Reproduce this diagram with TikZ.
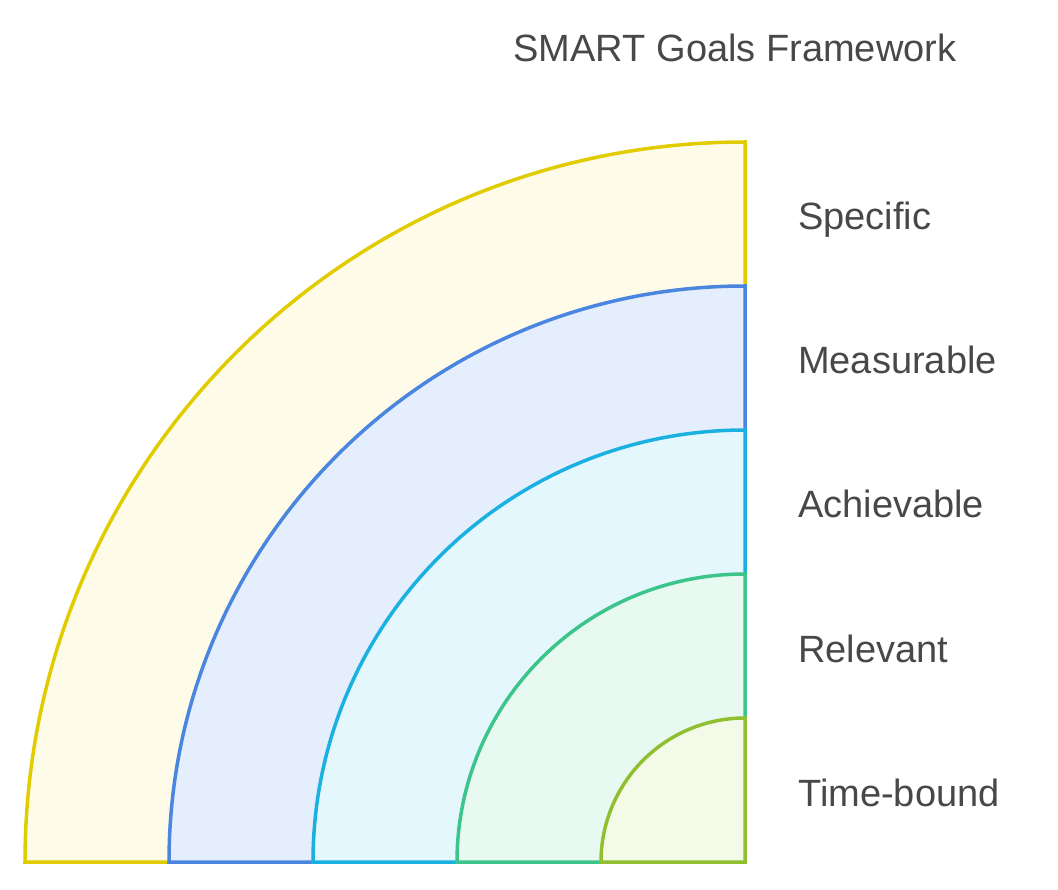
\documentclass[tikz,border=0pt]{standalone}
\usepackage{fontspec}
\setmainfont{Liberation Sans}
\definecolor{txt}{HTML}{484848}
\definecolor{ystroke}{HTML}{E0CC00}
\definecolor{yfill}{HTML}{FEFCE8}
\definecolor{bstroke}{HTML}{4A86E0}
\definecolor{bfill}{HTML}{E4EEFD}
\definecolor{cstroke}{HTML}{1AB0E0}
\definecolor{cfill}{HTML}{E4F7FD}
\definecolor{gstroke}{HTML}{3CC58A}
\definecolor{gfill}{HTML}{E8F9F1}
\definecolor{lstroke}{HTML}{90C030}
\definecolor{lfill}{HTML}{F3FAE8}
\begin{document}
\begin{tikzpicture}[x=1pt,y=-1pt,
  band/.style={line width=3.5pt, line join=miter},
  lbl/.style={anchor=base west, text=txt, font=\fontsize{38}{44}\selectfont, inner sep=0pt}]
\useasboundingbox (0,0) rectangle (1058,890);
\coordinate (c) at (745,862);
\foreach \r/\s/\f in {720/ystroke/yfill, 576/bstroke/bfill, 432/cstroke/cfill, 288/gstroke/gfill, 144/lstroke/lfill}{
  \draw[band, draw=\s, fill=\f] (c) -- ++(-\r,0) arc[start angle=180, end angle=90, x radius=\r, y radius=-\r] -- cycle;
}
\node[anchor=base, text=txt, font=\fontsize{38}{44}\selectfont, inner sep=0pt] (title) at (735,62) {SMART Goals Framework};
\node[lbl] (s) at (798,230) {Specific};
\node[lbl] (m) at (798,374) {Measurable};
\node[lbl] (a) at (798,518) {Achievable};
\node[lbl] (r) at (798,662) {Relevant};
\node[lbl] (t) at (798,806) {Time-bound};
\end{tikzpicture}
\end{document}
